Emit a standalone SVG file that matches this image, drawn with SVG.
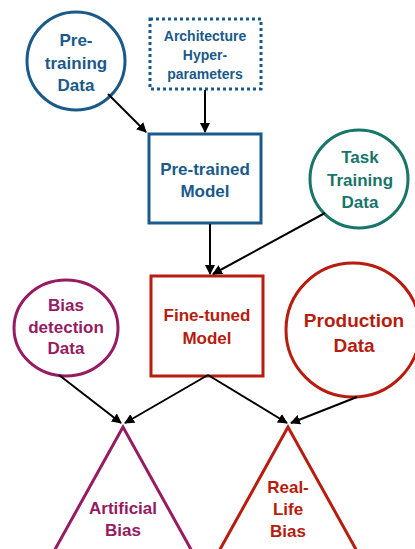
<svg xmlns="http://www.w3.org/2000/svg" width="415" height="549" viewBox="0 0 415 549">
<style>
text{font-family:"Liberation Sans",Arial,sans-serif;font-weight:bold;text-anchor:middle;dominant-baseline:central}
.blue{stroke:#1a5a8a;fill:none;stroke-width:3}
.tblue{fill:#1a5a8a}
.green{stroke:#18756a;fill:none;stroke-width:3}
.tgreen{fill:#18756a}
.red{stroke:#b71c0e;fill:none;stroke-width:3}
.tred{fill:#b71c0e}
.purple{stroke:#961b63;fill:none;stroke-width:3}
.tpurple{fill:#961b63}
.conn line{stroke:#000;stroke-width:2;marker-end:url(#ah)}
</style>
<defs>
<marker id="ah" viewBox="0 0 10 10" refX="9" refY="5" markerWidth="5" markerHeight="5" orient="auto" markerUnits="strokeWidth">
<path d="M0,0 L10,5 L0,10 z" fill="#000"/>
</marker>
</defs>
<rect width="415" height="549" fill="#fff"/>
<g id="pretraining-data">
<circle class="blue" cx="76" cy="61" r="49"/>
<text class="tblue" x="76" y="40" font-size="17">Pre-</text>
<text class="tblue" x="76" y="63" font-size="17">training</text>
<text class="tblue" x="76" y="85" font-size="17">Data</text>
</g>
<g id="architecture">
<rect class="blue" x="150" y="19" width="111" height="70" stroke-dasharray="3 3"/>
<text class="tblue" x="205" y="36" font-size="14">Architecture</text>
<text class="tblue" x="205" y="55" font-size="14">Hyper-</text>
<text class="tblue" x="205" y="74" font-size="14">parameters</text>
</g>
<g id="pretrained-model">
<rect class="blue" x="149" y="134" width="112" height="89"/>
<text class="tblue" x="205" y="169" font-size="17">Pre-trained</text>
<text class="tblue" x="205" y="191" font-size="17">Model</text>
</g>
<g id="task-training-data">
<circle class="green" cx="359" cy="179" r="49"/>
<text class="tgreen" x="360" y="157" font-size="17">Task</text>
<text class="tgreen" x="360" y="180" font-size="17">Training</text>
<text class="tgreen" x="360" y="202" font-size="17">Data</text>
</g>
<g id="finetuned-model">
<rect class="red" x="151" y="276" width="112" height="100"/>
<text class="tred" x="207" y="315" font-size="17">Fine-tuned</text>
<text class="tred" x="207" y="338" font-size="17">Model</text>
</g>
<g id="bias-detection-data">
<ellipse class="purple" cx="66" cy="328" rx="52" ry="48"/>
<text class="tpurple" x="66" y="305" font-size="17">Bias</text>
<text class="tpurple" x="66" y="327" font-size="17">detection</text>
<text class="tpurple" x="66" y="348" font-size="17">Data</text>
</g>
<g id="production-data">
<circle class="red" cx="353" cy="330" r="67"/>
<text class="tred" x="354" y="320" font-size="19">Production</text>
<text class="tred" x="354" y="345" font-size="19">Data</text>
</g>
<g id="artificial-bias">
<polygon class="purple" points="123,427 43,571 203,571"/>
<text class="tpurple" x="123" y="508" font-size="17">Artificial</text>
<text class="tpurple" x="123" y="530" font-size="17">Bias</text>
</g>
<g id="real-life-bias">
<polygon class="red" points="288,427 208,571 368,571"/>
<text class="tred" x="288" y="487" font-size="17">Real-</text>
<text class="tred" x="288" y="509" font-size="17">Life</text>
<text class="tred" x="288" y="531" font-size="17">Bias</text>
</g>
<g id="connectors" class="conn">
<line x1="108" y1="94" x2="146" y2="132"/>
<line x1="205" y1="90" x2="205" y2="132"/>
<line x1="210" y1="224" x2="210" y2="274"/>
<line x1="325" y1="213" x2="213" y2="274"/>
<line x1="59" y1="375" x2="121" y2="423"/>
<line x1="208" y1="375" x2="125" y2="423"/>
<line x1="208" y1="375" x2="287" y2="423"/>
<line x1="357" y1="397" x2="291" y2="423"/>
</g>
</svg>
